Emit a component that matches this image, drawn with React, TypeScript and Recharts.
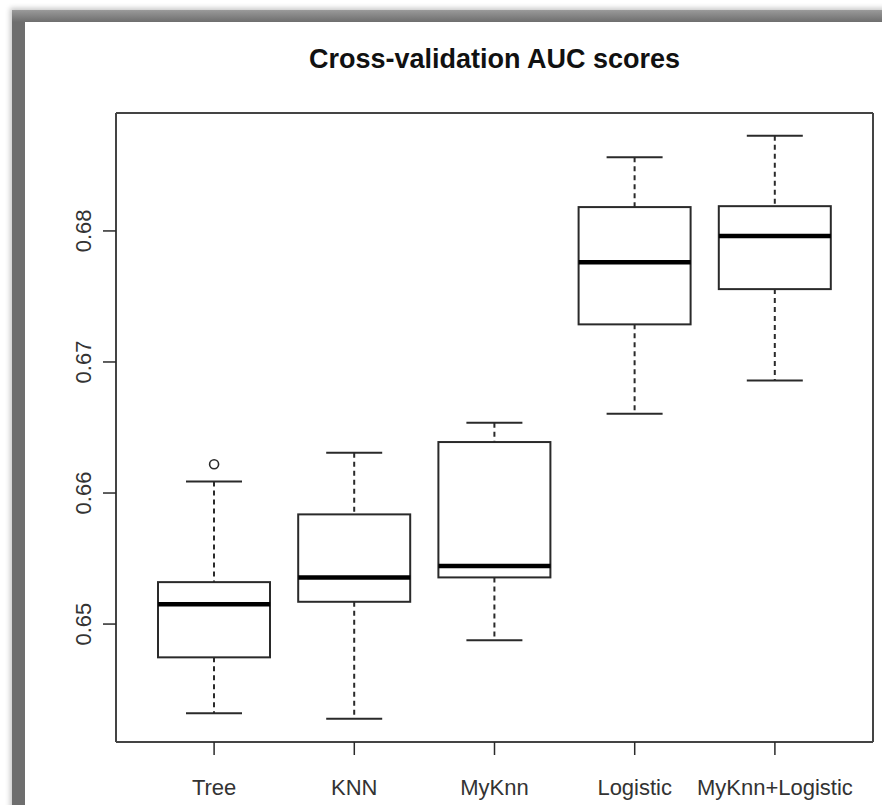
import { ComposedChart, Bar, Scatter, XAxis, YAxis, CartesianGrid } from 'recharts';

// box plot stats
const categories = ['Tree', 'KNN', 'MyKnn', 'Logistic', 'MyKnn+Logistic'];
const whiskerLow = [0.6432, 0.64278, 0.64876, 0.66605, 0.66858];
const lowerQuartile = [0.64746, 0.6517, 0.65356, 0.67287, 0.67556];
const medians = [0.65152, 0.65356, 0.65443, 0.67762, 0.67962];
const upperQuartile = [0.6532, 0.65837, 0.66389, 0.68182, 0.68189];
const whiskerHigh = [0.66087, 0.66307, 0.66536, 0.68562, 0.68726];
const outliers = [0.6622, null, null, null, null];

const yTicks = [0.65, 0.66, 0.67, 0.68];
const yDomain = [0.641, 0.689];

const rows = categories.map((name, i) => ({
    name,
    lo: whiskerLow[i],
    q1: lowerQuartile[i],
    med: medians[i],
    q3: upperQuartile[i],
    hi: whiskerHigh[i],
    out: outliers[i],
}));

const BOX_W = 112;
const LINE = '#2a2a2a';
const FONT = '"Liberation Sans", Arial, sans-serif';

const BoxShape = (props: any) => {
    const { x, y, width, height } = props;
    return <rect x={x} y={y} width={width} height={height} fill="#fff" stroke={LINE} strokeWidth={2} />;
};

// lower whisker: dashed from q1 down to min, cap at the bottom
const LowerWhisker = (props: any) => {
    const { x, y, width, height } = props;
    const cx = x + width / 2;
    return (
        <g>
            <line x1={cx} x2={cx} y1={y} y2={y + height} stroke={LINE} strokeWidth={2} strokeDasharray="5 4" />
            <line x1={cx - width / 4} x2={cx + width / 4} y1={y + height} y2={y + height} stroke={LINE} strokeWidth={2} />
        </g>
    );
};

// upper whisker: dashed from q3 up to max, cap at the top
const UpperWhisker = (props: any) => {
    const { x, y, width, height } = props;
    const cx = x + width / 2;
    return (
        <g>
            <line x1={cx} x2={cx} y1={y} y2={y + height} stroke={LINE} strokeWidth={2} strokeDasharray="5 4" />
            <line x1={cx - width / 4} x2={cx + width / 4} y1={y} y2={y} stroke={LINE} strokeWidth={2} />
        </g>
    );
};

const MedianShape = (props: any) => {
    const { cx, cy } = props;
    if (cx == null || cy == null) return <g />;
    return <line x1={cx - BOX_W / 2} x2={cx + BOX_W / 2} y1={cy} y2={cy} stroke="#000" strokeWidth={4.5} />;
};

const OutlierShape = (props: any) => {
    const { cx, cy, payload } = props;
    if (payload == null || payload.out == null || cy == null) return <g />;
    return <circle cx={cx} cy={cy} r={4.5} fill="none" stroke={LINE} strokeWidth={1.6} />;
};

const XTick = (props: any) => {
    const { x, y, payload } = props;
    return (
        <text x={x} y={y + 38} textAnchor="middle" fontSize={22} fill="#333" fontFamily={FONT}>
            {payload.value}
        </text>
    );
};

const YTick = (props: any) => {
    const { x, y, payload } = props;
    const bx = x - 10;
    return (
        <text x={bx} y={y} textAnchor="middle" fontSize={22} fill="#333" fontFamily={FONT}
            transform={`rotate(-90, ${bx}, ${y})`}>
            {payload.value.toFixed(2)}
        </text>
    );
};

// R draws a box around the plot region: grid lines only at the four edges
const frameRows = ({ offset }: any) => [offset.top, offset.top + offset.height];
const frameCols = ({ offset }: any) => [offset.left, offset.left + offset.width];

export default function App() {
    return (
        <div style={{ position: 'absolute', left: 0, top: 0, width: 882, height: 805, background: '#fff', overflow: 'hidden' }}>
            {/* window frame */}
            <div style={{
                position: 'absolute', left: 12, top: 10, width: 900, height: 820,
                background: 'linear-gradient(#9a9a9a, #6e6e6e 12px)',
                boxShadow: '0 0 5px 2px rgba(0,0,0,0.22)',
            }} />
            <div style={{ position: 'absolute', left: 25, top: 22, width: 900, height: 820, background: '#fff' }} />

            <div style={{
                position: 'absolute', left: 116, width: 757, top: 46, textAlign: 'center',
                fontFamily: FONT, fontWeight: 'bold', fontSize: 27, lineHeight: '27px', color: '#111',
            }}>
                Cross-validation AUC scores
            </div>

            <div style={{ position: 'absolute', left: 0, top: 0 }}>
                <ComposedChart width={882} height={805} data={rows} barGap={-BOX_W}
                    margin={{ top: 113, right: 9, bottom: 0, left: 0 }}>
                    <CartesianGrid stroke="#444" strokeWidth={2}
                        horizontalCoordinatesGenerator={frameRows}
                        verticalCoordinatesGenerator={frameCols} />
                    <XAxis dataKey="name" type="category" padding={{ left: 28, right: 28 }} height={63}
                        tickSize={13} tickLine={{ stroke: LINE, strokeWidth: 1.5 }} axisLine={false}
                        tick={<XTick />} interval={0} />
                    <YAxis type="number" domain={yDomain} ticks={yTicks} width={116} allowDataOverflow
                        tickSize={13} tickLine={{ stroke: LINE, strokeWidth: 1.5 }} axisLine={false}
                        tick={<YTick />} interval={0} />
                    <Bar dataKey={(d: any) => [d.lo, d.q1]} barSize={BOX_W} shape={<LowerWhisker />} isAnimationActive={false} />
                    <Bar dataKey={(d: any) => [d.q3, d.hi]} barSize={BOX_W} shape={<UpperWhisker />} isAnimationActive={false} />
                    <Bar dataKey={(d: any) => [d.q1, d.q3]} barSize={BOX_W} shape={<BoxShape />} isAnimationActive={false} />
                    <Scatter dataKey="med" shape={<MedianShape />} isAnimationActive={false} />
                    <Scatter dataKey="out" shape={<OutlierShape />} isAnimationActive={false} />
                </ComposedChart>
            </div>
        </div>
    );
}
